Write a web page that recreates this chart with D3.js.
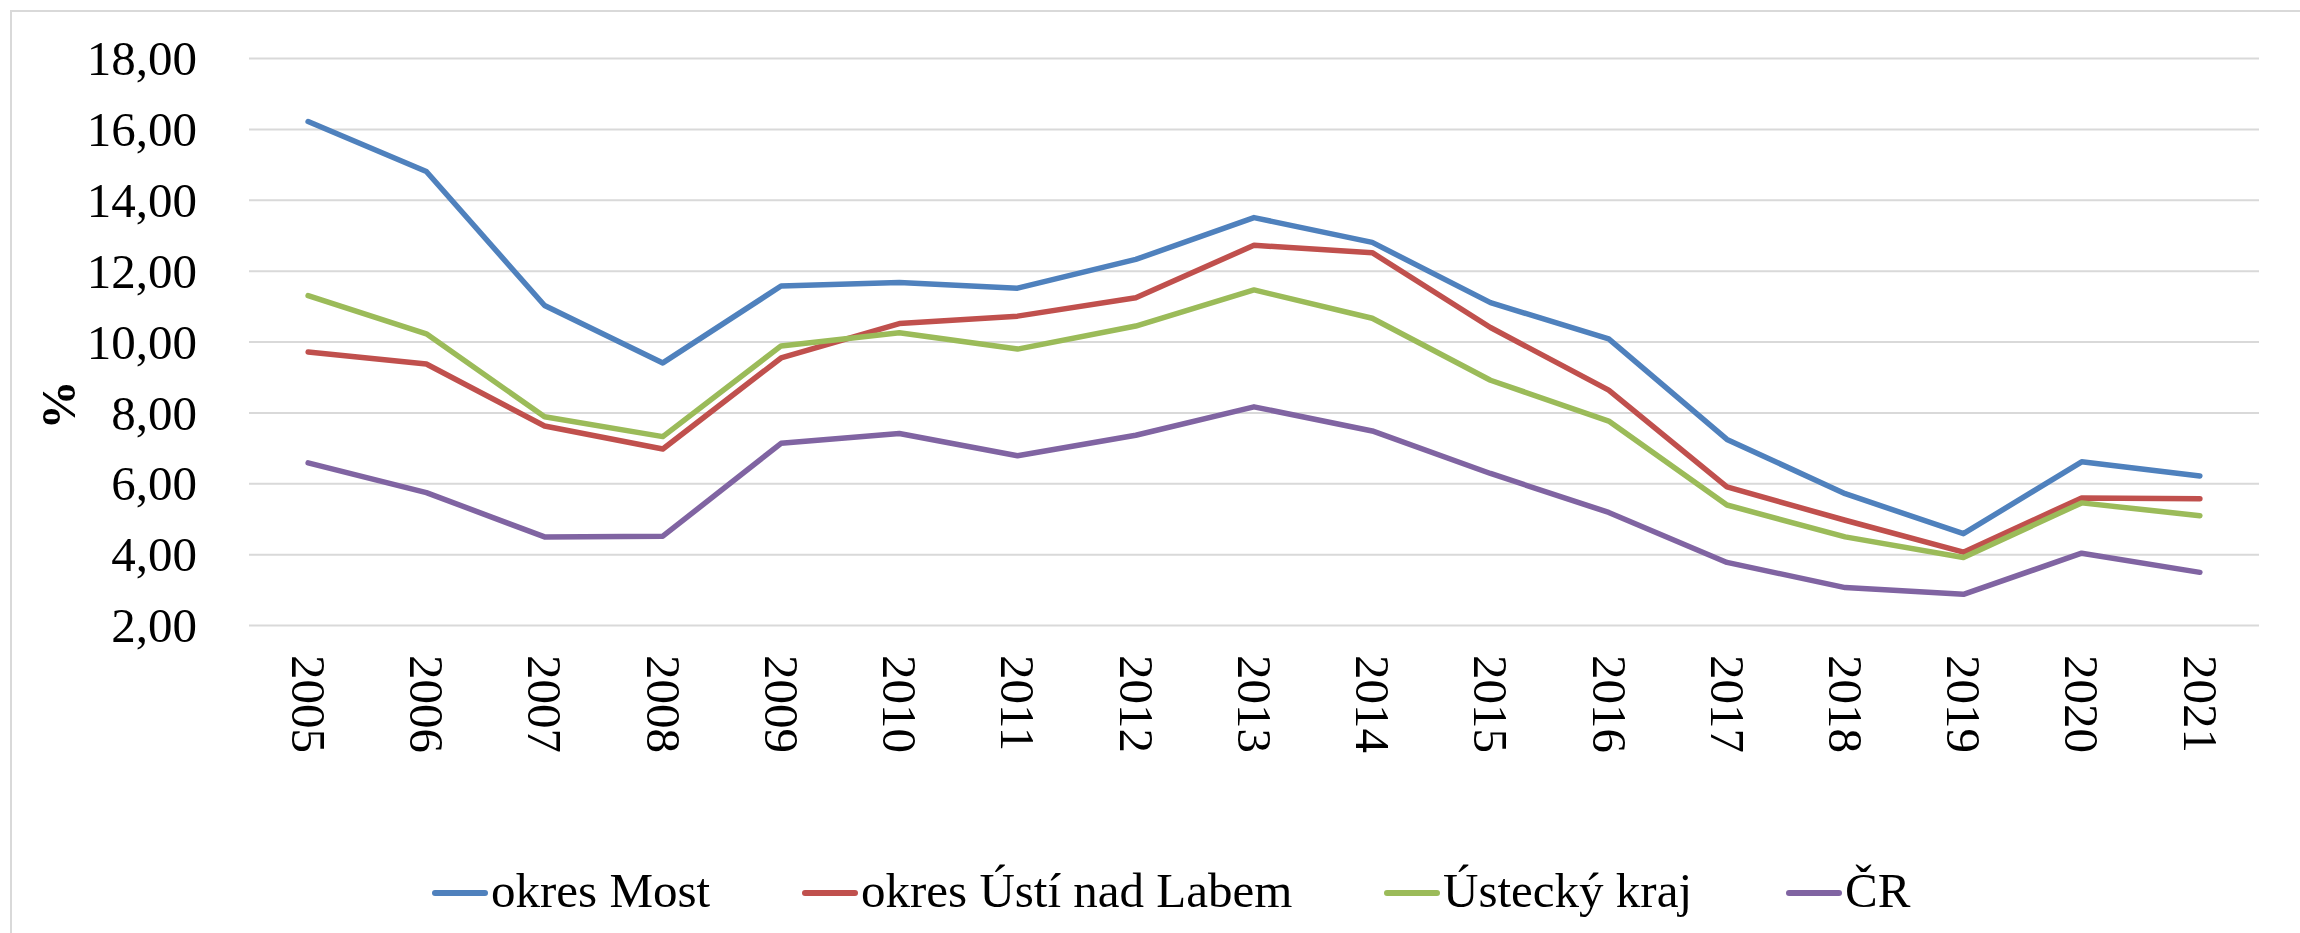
<!DOCTYPE html>
<html>
<head>
<meta charset="utf-8">
<script src="https://cdn.jsdelivr.net/npm/d3@7"></script>
<style>
  body { margin: 0; background: #fff; }
  text { font-family: "Liberation Serif", "Times New Roman", serif; fill: #000; }
</style>
</head>
<body>
<div id="chart"></div>
<script>
// Data
var years = ["2005","2006","2007","2008","2009","2010","2011","2012","2013",
             "2014","2015","2016","2017","2018","2019","2020","2021"];
var okresMost = [16.22,14.81,11.03,9.41,11.58,11.68,11.52,12.33,13.51,12.81,11.11,10.09,7.25,5.72,4.59,6.62,6.22];
var okresUsti = [9.72,9.38,7.63,6.98,9.55,10.52,10.73,11.25,12.73,12.52,10.41,8.64,5.91,4.97,4.07,5.60,5.58];
var ustecky   = [11.31,10.23,7.89,7.33,9.89,10.26,9.80,10.45,11.47,10.67,8.92,7.77,5.40,4.50,3.92,5.46,5.10];
var cr        = [6.59,5.75,4.50,4.52,7.14,7.42,6.79,7.37,8.17,7.49,6.29,5.19,3.78,3.07,2.88,4.04,3.50];
var yTicks = [2,4,6,8,10,12,14,16,18];
var seriesNames = ["okres Most", "okres Ústí nad Labem", "Ústecký kraj", "ČR"];
var seriesColors = ["#4F81BD", "#C0504D", "#9BBB59", "#8064A2"];

var series = [okresMost, okresUsti, ustecky, cr].map(function(vals, i) {
  return { name: seriesNames[i], color: seriesColors[i], values: vals };
});

var W = 2300, H = 933;
var margin = {top: 58, right: 41, bottom: 308, left: 249};
var width = W - margin.left - margin.right,
    height = H - margin.top - margin.bottom;

var svg = d3.select("#chart")
  .append("svg")
    .attr("width", W)
    .attr("height", H);

// outer chart border
svg.append("rect")
  .attr("x", 11).attr("y", 11)
  .attr("width", W).attr("height", H)
  .attr("fill", "none")
  .attr("stroke", "#d9d9d9")
  .attr("stroke-width", 2);

var g = svg.append("g")
  .attr("transform", "translate(" + margin.left + "," + margin.top + ")");

var x = d3.scaleBand()
  .domain(years)
  .range([0, width]);

var y = d3.scaleLinear()
  .domain([2, 18])
  .range([height + 0.5, 0.5]);

var fmt = function(d) { return d3.format(".2f")(d).replace(".", ","); };

// gridlines
g.append("g")
  .selectAll("line")
  .data(yTicks)
  .join("line")
    .attr("x1", 0).attr("x2", width)
    .attr("y1", function(d) { return y(d); })
    .attr("y2", function(d) { return y(d); })
    .attr("stroke", "#d9d9d9")
    .attr("stroke-width", 2);

// Y axis
var yAxis = g.append("g")
  .attr("transform", "translate(-52,0)")
  .call(d3.axisLeft(y).tickValues(yTicks).tickFormat(fmt).tickSize(0).tickPadding(0));
yAxis.select(".domain").remove();
yAxis.selectAll("text")
  .style("font-family", "'Liberation Serif', 'Times New Roman', serif")
  .style("font-size", "49px")
  .attr("fill", "#000")
  .attr("dy", "0.33em");

// X axis (rotated labels)
var xAxis = g.append("g")
  .attr("transform", "translate(0," + (height + 30) + ")")
  .call(d3.axisBottom(x).tickSize(0).tickPadding(0));
xAxis.select(".domain").remove();
xAxis.selectAll("text")
  .style("font-family", "'Liberation Serif', 'Times New Roman', serif")
  .style("font-size", "49px")
  .attr("fill", "#000")
  .attr("y", 0)
  .attr("dy", "0.33em")
  .attr("transform", "rotate(90)")
  .style("text-anchor", "start");

// Y axis title
svg.append("text")
  .attr("transform", "translate(58,405) rotate(-90)")
  .attr("text-anchor", "middle")
  .attr("dy", "0.35em")
  .style("font-size", "49px")
  .style("font-weight", "bold")
  .text("%");

// lines
var line = d3.line()
  .x(function(d, i) { return x(years[i]) + x.bandwidth() / 2; })
  .y(function(d) { return y(d); });

g.append("g")
  .selectAll("path")
  .data(series)
  .join("path")
    .attr("d", function(d) { return line(d.values); })
    .attr("fill", "none")
    .attr("stroke", function(d) { return d.color; })
    .attr("stroke-width", 5.5)
    .attr("stroke-linejoin", "round")
    .attr("stroke-linecap", "round");

// legend
var legendX = [432, 802, 1384, 1786];
var legend = svg.append("g")
  .selectAll("g")
  .data(series)
  .join("g")
    .attr("transform", function(d, i) { return "translate(" + legendX[i] + ",893)"; });

legend.append("line")
  .attr("x1", 3).attr("x2", 53)
  .attr("y1", 0).attr("y2", 0)
  .attr("stroke", function(d) { return d.color; })
  .attr("stroke-width", 6)
  .attr("stroke-linecap", "round");

legend.append("text")
  .attr("x", 59)
  .attr("y", 14)
  .style("font-size", "49px")
  .text(function(d) { return d.name; });
</script>
</body>
</html>
